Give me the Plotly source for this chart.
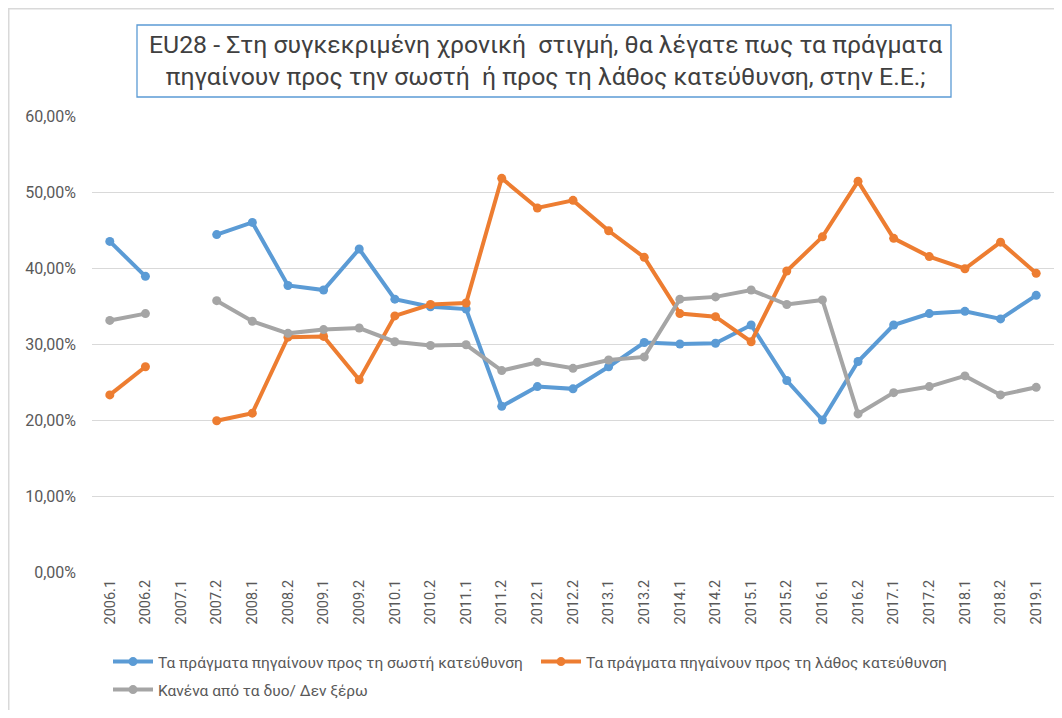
import plotly.graph_objects as go

categories = ["2006.1", "2006.2", "2007.1", "2007.2", "2008.1", "2008.2", "2009.1", "2009.2",
              "2010.1", "2010.2", "2011.1", "2011.2", "2012.1", "2012.2", "2013.1", "2013.2",
              "2014.1", "2014.2", "2015.1", "2015.2", "2016.1", "2016.2", "2017.1", "2017.2",
              "2018.1", "2018.2", "2019.1"]

right_direction = [43.5, 38.9, None, 44.4, 46.0, 37.7, 37.1, 42.5,
                   35.9, 34.9, 34.6, 21.8, 24.4, 24.1, 27.0, 30.2,
                   30.0, 30.1, 32.5, 25.2, 20.0, 27.7, 32.5, 34.0,
                   34.3, 33.3, 36.4]

wrong_direction = [23.3, 27.0, None, 19.9, 20.9, 30.9, 31.0, 25.3,
                   33.7, 35.2, 35.4, 51.8, 47.9, 48.9, 44.9, 41.4,
                   34.0, 33.6, 30.3, 39.6, 44.1, 51.4, 43.9, 41.5,
                   39.9, 43.4, 39.3]

neither_dk = [33.1, 34.0, None, 35.7, 33.0, 31.4, 31.9, 32.1,
              30.3, 29.8, 29.9, 26.5, 27.6, 26.8, 27.9, 28.3,
              35.9, 36.2, 37.1, 35.2, 35.8, 20.8, 23.6, 24.4,
              25.8, 23.3, 24.3]

series_names = ["Τα πράγματα πηγαίνουν προς τη σωστή κατεύθυνση",
                "Τα πράγματα πηγαίνουν προς τη λάθος κατεύθυνση",
                "Κανένα από τα δυο/ Δεν ξέρω"]
series_colors = ["#5B9BD5", "#ED7D31", "#A5A5A5"]
series_legends = ["legend", "legend", "legend2"]

y_tickvals = [0, 10, 20, 30, 40, 50, 60]
y_ticktext = ["0,00%", "10,00%", "20,00%", "30,00%", "40,00%", "50,00%", "60,00%"]

title_text = ("EU28 - Στη συγκεκριμένη χρονική  στιγμή, θα λέγατε πως τα πράγματα<br>"
              "πηγαίνουν προς την σωστή  ή προς τη λάθος κατεύθυνση, στην Ε.Ε.;")

FONT = "Roboto"
# page body has an 8px margin, so figure coords = screen coords - 8
OFF = 8
W, H = 1046, 702
L, R, T, B = 84, 0, 108, 138
pw, ph = W - L - R, H - T - B

def px_x(x):  # screen x -> paper
    return (x - OFF - L) / pw

def px_y(y):  # screen y -> paper
    return (H - B - (y - OFF)) / ph

fig = go.Figure()
for vals, name, col, lg in zip([right_direction, wrong_direction, neither_dk],
                               series_names, series_colors, series_legends):
    fig.add_trace(go.Scatter(
        x=categories, y=vals, name=name, mode="lines+markers",
        line=dict(color=col, width=4),
        marker=dict(color=col, size=9),
        connectgaps=False, legend=lg,
    ))

legend_font = dict(family=FONT, size=15.5, color="#595959")

fig.update_layout(
    width=W, height=H,
    margin=dict(l=L, r=R, t=T, b=B, autoexpand=False),
    paper_bgcolor="white", plot_bgcolor="white",
    font=dict(family=FONT, color="#595959"),
    showlegend=True,
    legend=dict(
        orientation="h", x=px_x(108), y=px_y(662), xanchor="left", yanchor="middle",
        entrywidth=373, entrywidthmode="pixels",
        font=legend_font, itemwidth=40, bgcolor="rgba(0,0,0,0)",
    ),
    legend2=dict(
        orientation="h", x=px_x(108), y=px_y(690), xanchor="left", yanchor="middle",
        font=legend_font, itemwidth=40, bgcolor="rgba(0,0,0,0)",
    ),
    xaxis=dict(
        type="category", categoryorder="array", categoryarray=categories,
        tickangle=-90, tickfont=dict(family=FONT, size=14.5, color="#595959"),
        showgrid=False, showline=False, ticks="", zeroline=False,
        range=[-0.5, len(categories) - 0.5], ticklabelstandoff=4,
    ),
    yaxis=dict(
        range=[0, 60], tickvals=y_tickvals, ticktext=y_ticktext,
        tickfont=dict(family=FONT, size=16, color="#595959"),
        showgrid=True, gridcolor="#D9D9D9", gridwidth=1.3,
        zeroline=False, showline=False, ticks="", ticklabelstandoff=15,
    ),
    shapes=[
        dict(type="rect", xref="paper", yref="paper",
             x0=px_x(8.75), x1=px_x(1080), y0=px_y(740), y1=px_y(8.75),
             line=dict(color="#D9D9D9", width=1.5), fillcolor="rgba(0,0,0,0)", layer="below"),
        dict(type="rect", xref="paper", yref="paper",
             x0=px_x(137), x1=px_x(951), y0=px_y(97), y1=px_y(25),
             line=dict(color="#5B9BD5", width=1.3), fillcolor="white"),
    ],
    annotations=[
        dict(text=title_text, xref="paper", yref="paper",
             x=px_x(545), y=px_y(61), xanchor="center", yanchor="middle",
             showarrow=False, align="center",
             font=dict(family=FONT, size=24.8, color="#404040")),
    ],
)

fig.write_html("out.html")
